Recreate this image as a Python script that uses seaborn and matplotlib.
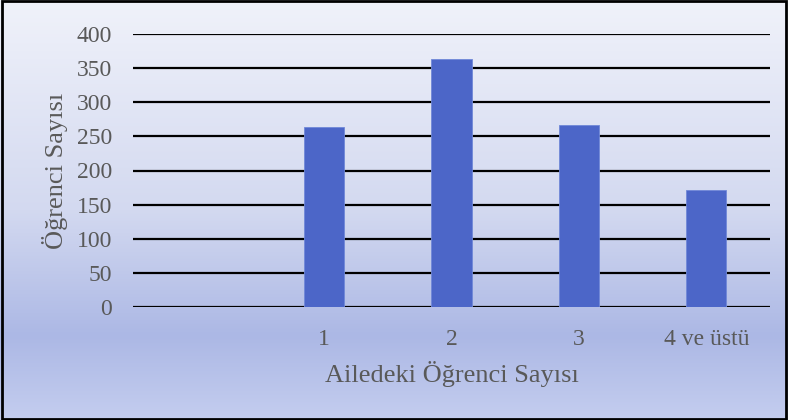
import matplotlib
matplotlib.use("Agg")
import matplotlib.pyplot as plt
import seaborn as sns
import numpy as np
import pandas as pd
from matplotlib.colors import LinearSegmentedColormap

categories = ["", "1", "2", "3", "4 ve üstü"]
values = [0, 264, 363, 267, 172]
yticks = [0, 50, 100, 150, 200, 250, 300, 350, 400]

sns.set_theme(style="white")
plt.rcParams['font.family'] = ['Liberation Serif', 'DejaVu Serif']

W, H = 788, 420
fig = plt.figure(figsize=(W / 100, H / 100), dpi=100)

# gradient background
bg = fig.add_axes([0, 0, 1, 1], zorder=0)
cmap = LinearSegmentedColormap.from_list(
    "bg", [(0.0, "#f0f2fa"), (0.5, "#d3d9f0"), (0.8, "#acb8e5"), (1.0, "#c4cdef")])
grad = np.linspace(0, 1, 256).reshape(-1, 1)
bg.imshow(grad, aspect="auto", cmap=cmap, extent=[0, 1, 0, 1], origin="upper")
bg.set_xlim(0, 1); bg.set_ylim(0, 1)
bg.axis("off")
# border
bg.add_patch(plt.Rectangle((0.002, 0.003), 0.996, 0.994, fill=False, edgecolor="black",
                           linewidth=2, transform=bg.transAxes))

left, right = 133 / W, 770 / W
bottom, top = 1 - 307 / H, 1 - 34 / H
ax = fig.add_axes([left, bottom, right - left, top - bottom], zorder=1)
ax.patch.set_alpha(0)

df = pd.DataFrame({"cat": categories, "val": values})
sns.barplot(data=df, x="cat", y="val", ax=ax, color="#4C66C8", width=0.315,
            saturation=1, edgecolor="#7088d8", linewidth=0.6, zorder=3)

ax.set_ylim(0, 400)
ax.set_yticks(yticks)
ax.set_xlim(-0.5, len(categories) - 0.5)
for y in yticks:
    ax.axhline(y, color="black", linewidth=1.6, zorder=1)
for s in ax.spines.values():
    s.set_visible(False)
ax.tick_params(axis="both", length=0, labelsize=17, colors="#595959")
ax.tick_params(axis="y", pad=15)
ax.tick_params(axis="x", pad=16)
ax.set_xlabel("Ailedeki Öğrenci Sayısı", fontsize=19, color="#595959", labelpad=8)
ax.set_ylabel("Öğrenci Sayısı", fontsize=19, color="#595959", labelpad=6)

fig.savefig("out.png", dpi=100)
